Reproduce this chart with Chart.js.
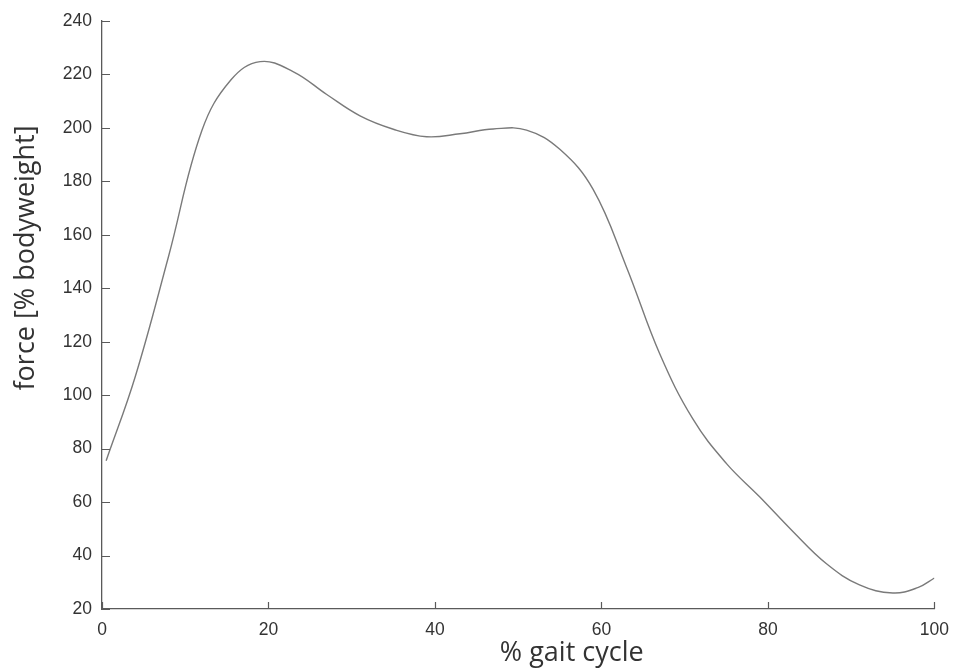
<!DOCTYPE html>
<html>
<head>
<meta charset="utf-8">
<script src="https://cdn.jsdelivr.net/npm/chart.js@4/dist/chart.umd.min.js"></script>
<style>
  html, body { margin: 0; padding: 0; background: #ffffff; }
  #wrap { position: relative; width: 960px; height: 671px; }
</style>
</head>
<body>
<div id="wrap"><canvas id="c" width="960" height="671"></canvas></div>
<script>
// Data
const gaitPercent = [0.5, 4, 8, 12, 15.5, 19, 23, 27, 31, 35, 39, 43, 47, 51, 55, 59, 63, 67, 71, 75, 79, 83, 87, 91, 95, 98, 100];
const forceBW = [75.5, 107, 152, 199, 218, 224.8, 221, 212.5, 204.5, 199.5, 196.7, 197.8, 199.6, 199.2, 192, 177, 148, 115.5, 91, 74.5, 62, 49, 37, 29, 26, 28, 31.6];
const xTickValues = [0, 20, 40, 60, 80, 100];
const yTickValues = [20, 40, 60, 80, 100, 120, 140, 160, 180, 200, 220, 240];
const xTitle = '% gait cycle';
const yTitle = 'force [% bodyweight]';

const points = gaitPercent.map((x, i) => ({ x: x, y: forceBW[i] }));

const axisColor = '#5a5a5a';
const tickFont = { family: '"Liberation Sans", Arial, sans-serif', size: 17.5 };

const inwardTicks = {
  id: 'inwardTicks',
  afterDraw(chart) {
    const ctx = chart.ctx;
    const a = chart.chartArea;
    const xs = chart.scales.x, ys = chart.scales.y;
    ctx.save();
    ctx.strokeStyle = axisColor;
    ctx.lineWidth = 1.2;
    ctx.beginPath();
    xTickValues.forEach(v => {
      const px = Math.round(xs.getPixelForValue(v)) + 0.5;
      ctx.moveTo(px, a.bottom);
      ctx.lineTo(px, a.bottom - 7);
    });
    yTickValues.forEach(v => {
      const py = Math.round(ys.getPixelForValue(v)) + 0.5;
      ctx.moveTo(a.left, py);
      ctx.lineTo(a.left + 8, py);
    });
    ctx.stroke();
    // axis titles
    ctx.fillStyle = '#333333';
    ctx.font = '27px "Open Sans", "DejaVu Sans", sans-serif';
    ctx.textAlign = 'center';
    ctx.textBaseline = 'middle';
    ctx.fillText(xTitle, a.left + (a.right - a.left) * 0.5643, a.bottom + 44);
    ctx.translate(26, a.top + (a.bottom - a.top) * 0.403);
    ctx.rotate(-Math.PI / 2);
    ctx.fillText(yTitle, 0, 0);
    ctx.restore();
  }
};

new Chart(document.getElementById('c'), {
  type: 'line',
  data: {
    datasets: [{
      data: points,
      borderColor: '#7a7a7a',
      borderWidth: 1.4,
      pointRadius: 0,
      fill: false,
      tension: 0.4
    }]
  },
  options: {
    responsive: false,
    animation: false,
    events: [],
    layout: { padding: { left: 0, right: 25, top: 21, bottom: 0 } },
    plugins: { legend: { display: false }, tooltip: { enabled: false } },
    scales: {
      x: {
        type: 'linear',
        min: 0, max: 100,
        afterFit(s) { s.height = 62; },
        afterBuildTicks(s) { s.ticks = xTickValues.map(v => ({ value: v })); },
        grid: { display: true, drawOnChartArea: false, drawTicks: false },
        border: { display: true, color: axisColor, width: 1.3 },
        ticks: { color: '#333333', font: tickFont, padding: 11, maxRotation: 0 }
      },
      y: {
        type: 'linear',
        min: 20, max: 240,
        afterFit(s) { s.width = 102; },
        afterBuildTicks(s) { s.ticks = yTickValues.map(v => ({ value: v })); },
        grid: { display: true, drawOnChartArea: false, drawTicks: false },
        border: { display: true, color: axisColor, width: 1.3 },
        ticks: { color: '#333333', font: tickFont, padding: 10 }
      }
    }
  },
  plugins: [inwardTicks]
});
</script>
</body>
</html>
